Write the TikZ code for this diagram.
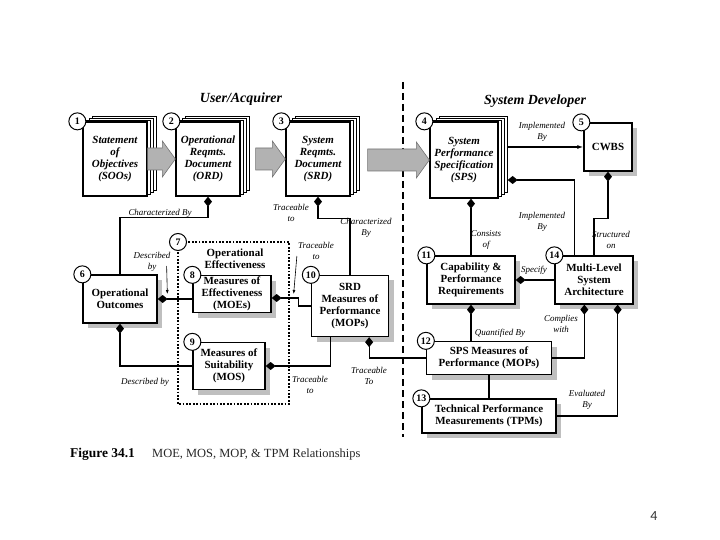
\documentclass[tikz,border=0pt]{standalone}
\usepackage{fontspec}
\setmainfont{Liberation Serif}
\setsansfont{Carlito}
\usetikzlibrary{arrows.meta, positioning, shadows, calc}

% wide grey arrow between two documents
\newcommand{\docarrow}[2]{%
  \filldraw[bigarr] let \p1=(#1), \p2=(#2) in
    (\x1,\y2+11bp) -- (\x2-13bp,\y2+11bp) -- (\x2-13bp,\y2+18bp) -- (\x2,\y2)
    -- (\x2-13bp,\y2-18bp) -- (\x2-13bp,\y2-11bp) -- (\x1,\y2-11bp) -- cycle;}

\begin{document}
\begin{tikzpicture}[x=1bp, y=-1bp,
  doc/.style={draw, line width=1.3bp, fill=white, minimum width=64bp, minimum height=74bp, inner sep=2bp, align=center,
    font=\fontsize{11}{12}\selectfont\bfseries\itshape,
    copy shadow={shadow xshift=9bp, shadow yshift=6bp, draw=black, fill=white, line width=.8bp},
    copy shadow={shadow xshift=6bp, shadow yshift=4bp, draw=black, fill=white, line width=.8bp},
    copy shadow={shadow xshift=3bp, shadow yshift=2bp, draw=black, fill=white, line width=.8bp}},
  box/.style={draw, line width=1.3bp, fill=white, align=center, inner sep=1bp,
    font=\fontsize{11}{12}\selectfont\bfseries,
    drop shadow={shadow xshift=5bp, shadow yshift=-5bp, draw=none, fill=black!25, opacity=1}},
  numc/.style={circle, draw, line width=1bp, fill=white, minimum size=17bp, inner sep=0pt, font=\fontsize{10}{10}\selectfont\bfseries},
  link/.style={line width=1.2bp},
  dlink/.style={link, {Diamond[length=10bp, width=8bp]}-},
  flow/.style={link, -{Latex[length=6bp, width=4bp]}},
  ptr/.style={line width=.6bp, -{Latex[length=4bp, width=3bp]}},
  lbl/.style={font=\fontsize{9}{11}\selectfont\itshape, align=center, inner sep=1bp},
  bigarr/.style={fill=black!30, draw=black!55, line width=.6bp},
  sidehead/.style={font=\fontsize{14}{16}\selectfont\bfseries\itshape},
]
\useasboundingbox (0,0) rectangle (720,540);

% sides
\node[sidehead] (user) at (241,99) {User/Acquirer};
\node[sidehead] (dev) at (535,101) {System Developer};
\draw[line width=1.8bp, dash pattern=on 7bp off 4bp] (403,82) -- (403,437);

% operational effectiveness group
\draw[line width=2bp, dash pattern=on 1.8bp off 1.6bp] (178,242) rectangle (289,404);
\node[font=\fontsize{11}{12}\selectfont\bfseries, align=center] (oeff) at (235,259) {Operational\\Effectiveness};

% documents
\node[doc] (soo) at (115,159) {Statement\\of\\Objectives\\(SOOs)};
\node[doc] (ord) at (208,159) {Operational\\Reqmts.\\Document\\(ORD)};
\node[doc] (srd) at (318,159) {System\\Reqmts.\\Document\\(SRD)};
\node[doc, minimum width=68bp, minimum height=76bp] (sps) at (464,160) {System\\Performance\\Specification\\(SPS)};

\docarrow{soo.east}{ord.west}
\docarrow{$(ord.east)+(15,0)$}{srd.west}
\docarrow{$(srd.east)+(17,0)$}{sps.west}

% measures
\node[box, minimum width=48bp, minimum height=48bp] (cwbs) at (608,147) {CWBS};
\node[box, minimum width=74bp, minimum height=48bp] (oo) at (120,299) {Operational\\Outcomes};
\node[box, minimum width=78bp, minimum height=37bp] (moe) at (232,294) {Measures of\\Effectiveness\\(MOEs)};
\node[box, minimum width=72bp, minimum height=47bp] (mos) at (229,366) {Measures of\\Suitability\\(MOS)};
\node[box, minimum width=77bp, minimum height=61bp] (srdmop) at (350,306) {SRD\\Measures of\\Performance\\(MOPs)};
\node[box, minimum width=88bp, minimum height=48bp] (cpr) at (471,280) {Capability \&\\Performance\\Requirements};
\node[box, minimum width=78bp, minimum height=48bp] (msa) at (594,280) {Multi-Level\\System\\Architecture};
\node[box, minimum width=125bp, minimum height=33bp] (spsmop) at (489,358) {SPS Measures of\\Performance (MOPs)};
\node[box, minimum width=134bp, minimum height=34bp] (tpm) at (489,416) {Technical Performance\\Measurements (TPMs)};

% numbers
\node[numc] (n1) at ($(soo.north west)+(-5,0)$) {1};
\node[numc] (n2) at ($(ord.north west)+(-4,0)$) {2};
\node[numc] (n3) at ($(srd.north west)+(-4,0)$) {3};
\node[numc] (n4) at ($(sps.north west)+(-5,0)$) {4};
\node[numc] (n5) at ($(cwbs.north west)+(-2,0)$) {5};
\node[numc] (n6) at (oo.north west) {6};
\node[numc] (n7) at (178,242) {7};
\node[numc] (n8) at (moe.north west) {8};
\node[numc] (n9) at (mos.north west) {9};
\node[numc] (n10) at (srdmop.north west) {10};
\node[numc] (n11) at (cpr.north west) {11};
\node[numc] (n12) at (spsmop.north west) {12};
\node[numc] (n13) at (tpm.north west) {13};
\node[numc] (n14) at (msa.north west) {14};

% user/acquirer links
\draw[dlink] (ord.south) -- ++(0,21) -| (oo.north);
\node[lbl] (charby1) at (160,213) {Characterized By};
\draw[dlink] (srd.south) -- ++(0,22) -| (srdmop.north);
\node[lbl] (trace1) at (291,213) {Traceable\\to};
\node[lbl] (charby2) at (366,228) {Characterized\\By};
\draw[dlink] (oo.east) -- (oo.east -| moe.west);
\node[lbl] (descby1) at (152,262) {Described\\by};
\draw[ptr] ($(descby1.east)+(-5,4)$) -- ($(oo.east -| moe.west)+(-25,-5)$);
\draw[dlink] (oo.south) |- (mos.west);
\node[lbl] (descby2) at (145,382) {Described by};
\draw[dlink] ($(moe.east)+(0,4)$) -- ++(27,0) |- (srdmop.west);
\node[lbl] (trace2) at (316,251) {Traceable\\to};
\draw[ptr] ($(trace2.west)+(0,5)$) -- ($(moe.east)+(22,0)$);
\draw[dlink] (mos.east) -| ($(srdmop.south west)+(20,0)$);
\node[lbl] (trace3) at (310,385) {Traceable\\to};
\draw[dlink] ($(srdmop.south east)+(-20,0)$) |- (spsmop.west);
\node[lbl] (trace4) at (369,376) {Traceable\\To};

% system developer links
\draw[flow] ($(sps.east |- cwbs.west)+(9,0)$) -- (cwbs.west);
\node[lbl] (impl1) at (542,132) {Implemented\\By};
\draw[dlink] (cwbs.south) -- ++(0,47) -| (msa.north);
\node[lbl] (struct) at (611,240) {Structured\\on};
\draw[dlink] ($(sps.east)+(9,20)$) -| ($(msa.north west)+(20,0)$);
\node[lbl] (impl2) at (542,222) {Implemented\\By};
\draw[dlink] (sps.south -| cpr.north) -- (cpr.north);
\node[lbl] (consist) at (486,240) {Consists\\of};
\draw[dlink] (cpr.east) -- (msa.west);
\node[lbl] (specify) at (534,270) {Specify};
\draw[dlink] (cpr.south) -- (cpr.south |- spsmop.north);
\node[lbl] (quant) at (500,333) {Quantified By};
\draw[dlink] ($(msa.south west)+(30,0)$) |- (spsmop.east);
\node[lbl] (comply) at (561,324) {Complies\\with};
\draw[dlink] ($(msa.south east)+(-16,0)$) |- (tpm.east);
\node[lbl] (evalby) at (587,400) {Evaluated\\By};
\draw[link] (spsmop.south) -- (spsmop.south |- tpm.north);

% caption
\node[anchor=base west, inner sep=0pt, font=\fontsize{13.5}{16}\selectfont\bfseries] (figno) at (70,457) {Figure 34.1};
\node[anchor=base west, inner sep=0pt, font=\fontsize{12.5}{15}\selectfont, text=black!85] (figcap) at (152,457) {MOE, MOS, MOP, \& TPM Relationships};
\node[font=\sffamily\fontsize{14}{16}\selectfont, text=black!80] (pageno) at (654,516) {4};
\end{tikzpicture}
\end{document}
